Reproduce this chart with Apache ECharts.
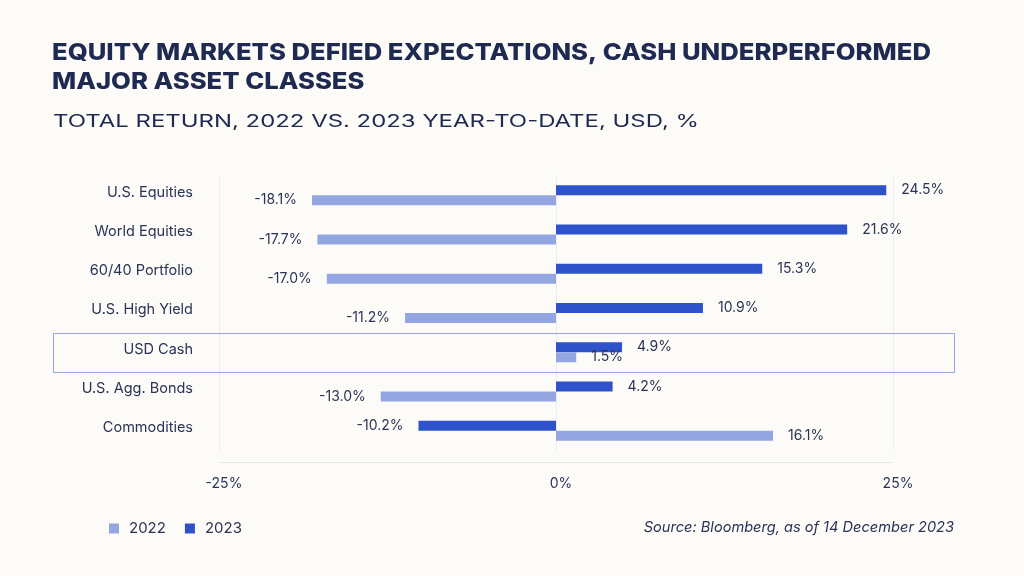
<!DOCTYPE html>
<html>
<head>
<meta charset="utf-8">
<script src="https://cdn.jsdelivr.net/npm/echarts@6/dist/echarts.min.js"></script>
<style>
html,body{margin:0;padding:0;background:#fcfbf8;}
#c{width:1024px;height:576px;}
</style>
</head>
<body>
<div id="c"></div>
<script>
const categories = ['U.S. Equities','World Equities','60/40 Portfolio','U.S. High Yield','USD Cash','U.S. Agg. Bonds','Commodities'];
const values2023 = [24.5, 21.6, 15.3, 10.9, 4.9, 4.2, -10.2];
const values2022 = [-18.1, -17.7, -17.0, -11.2, 1.5, -13.0, 16.1];
const xTicks = [-25, 0, 25];
const highlightCategory = 'USD Cash';
const titleLines = ['EQUITY MARKETS DEFIED EXPECTATIONS, CASH UNDERPERFORMED', 'MAJOR ASSET CLASSES'];
const subtitleText = 'TOTAL RETURN, 2022 VS. 2023 YEAR-TO-DATE, USD, %';
const sourceText = 'Source: Bloomberg, as of 14 December 2023';

const navy = '#1f2a52';
const textCol = '#2b3456';
const c2023 = '#2e52c9';
const c2022 = '#94a6e1';
const FONT = 'Inter';

function measure(text, font){
  const cv = document.createElement('canvas');
  const ctx = cv.getContext('2d');
  ctx.font = font;
  return ctx.measureText(text).width;
}
const titleFont = '800 23px Inter';
const titleScale = 879 / measure(titleLines[0], titleFont);
const subFont = '400 17px Inter';
const subScale = 646 / measure(subtitleText, subFont);

const chart = echarts.init(document.getElementById('c'), null, {renderer:'canvas'});

function lbl(v){ return v.toFixed(1) + '%'; }
function mkData(arr){
  return arr.map(v => ({value: v, label: {position: v < 0 ? 'left' : 'right'}}));
}

const option = {
  backgroundColor: '#fcfbf8',
  animation: false,
  title: [
    {
      text: sourceText,
      right: 65, top: 515,
      textStyle: {fontFamily: FONT, fontStyle: 'italic', fontWeight: 400, fontSize: 14.6, color: textCol}
    }
  ],
  legend: {
    left: 104, top: 516,
    icon: 'rect', itemWidth: 10, itemHeight: 10, itemGap: 19,
    data: ['2022','2023'],
    textStyle: {fontFamily: FONT, fontSize: 15, color: textCol, padding: [0,0,0,5]}
  },
  grid: {left: 219, right: 131, top: 175.5, bottom: 125.5, containLabel: false},
  xAxis: {
    type: 'value', min: xTicks[0], max: xTicks[xTicks.length-1], interval: 25,
    offset: 12,
    axisLine: {show: true, lineStyle: {color: '#e6e6ec', width: 1}},
    axisTick: {show: false},
    splitLine: {show: true, lineStyle: {color: '#ececf1', width: 1}},
    axisLabel: {formatter: v => v + '%', fontFamily: FONT, fontSize: 14, color: textCol, margin: 14, padding: [0,0,0,10]}
  },
  yAxis: {
    type: 'category', data: categories, inverse: true,
    axisLine: {show: false}, axisTick: {show: false},
    axisLabel: {fontFamily: FONT, fontSize: 14.5, color: textCol, margin: 26, verticalAlign: 'bottom', lineHeight: 6}
  },
  series: [
    {
      name: '2023', type: 'bar', data: mkData(values2023),
      barWidth: 10, barGap: '0%',
      itemStyle: {color: c2023},
      label: {show: true, formatter: p => lbl(p.value), fontFamily: FONT, fontSize: 14, color: textCol, distance: 15}
    },
    {
      name: '2022', type: 'bar', data: mkData(values2022),
      barWidth: 10, barGap: '0%',
      itemStyle: {color: c2022},
      label: {show: true, formatter: p => lbl(p.value), fontFamily: FONT, fontSize: 14, color: textCol, distance: 15}
    }
  ]
};
chart.setOption(option);

function addGraphics(){
  const idx = categories.indexOf(highlightCategory);
  const yc = chart.convertToPixel({yAxisIndex: 0}, idx);
  const y0 = chart.convertToPixel({yAxisIndex: 0}, 0);
  const y1 = chart.convertToPixel({yAxisIndex: 0}, 1);
  const band = Math.abs(y1 - y0);
  chart.setOption({
    graphic: [
      {
        type: 'rect', silent: true, z: 0,
        shape: {x: 53.5, y: Math.round(yc - band/2) + 0.5, width: 901, height: Math.round(band)},
        style: {fill: 'none', stroke: '#93a6e2', lineWidth: 1}
      },
      {
        type: 'text', x: 52, y: 38, scaleX: titleScale, scaleY: 1,
        style: {text: titleLines.join('\n'), font: titleFont, lineHeight: 29.5, fill: navy, textVerticalAlign: 'top'}
      },
      {
        type: 'text', x: 53, y: 113, scaleX: subScale, scaleY: 1,
        style: {text: subtitleText, font: subFont, fill: navy, textVerticalAlign: 'top'}
      }
    ]
  });
}
addGraphics();
</script>
</body>
</html>
